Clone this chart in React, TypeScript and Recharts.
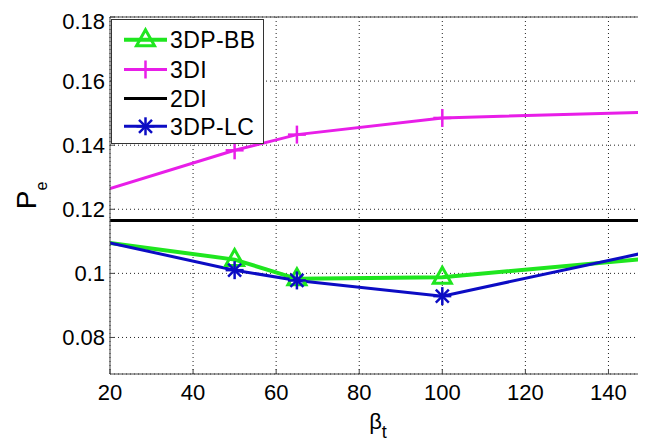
import React from 'react';
import { LineChart, Line, XAxis, YAxis, CartesianGrid, ReferenceLine, Legend } from 'recharts';

// ---- data ----
const betaT = [20, 50, 65, 100, 150];
const pe3DPBB = [0.1095, 0.1043, 0.0983, 0.0988, 0.1047];
const pe3DI = [0.1265, 0.1384, 0.1433, 0.1485, 0.1503];
const pe2DI = [0.1165, 0.1165, 0.1165, 0.1165, 0.1165];
const pe3DPLC = [0.1095, 0.101, 0.0978, 0.0929, 0.1068];

const xTicks = [20, 40, 60, 80, 100, 120, 140];
const xTickLabels = ['20', '40', '60', '80', '100', '120', '140'];
const yTicks = [0.08, 0.1, 0.12, 0.14, 0.16, 0.18];
const yTickLabels = ['0.08', '0.1', '0.12', '0.14', '0.16', '0.18'];
const xDomain: [number, number] = [20, 150];
const yDomain: [number, number] = [0.0686, 0.18];

const seriesNames = ['3DP-BB', '3DI', '2DI', '3DP-LC'];

const data = betaT.map((b, i) => ({
  beta: b,
  bb: pe3DPBB[i],
  di3: pe3DI[i],
  di2: pe2DI[i],
  lc: pe3DPLC[i],
}));

// ---- styles ----
const FONT = '"Liberation Sans", Arial, Helvetica, sans-serif';
const series = [
  { key: 'bb', name: seriesNames[0], color: '#1fe61f', width: 4, marker: 'triangle' },
  { key: 'di3', name: seriesNames[1], color: '#e81ee8', width: 3, marker: 'plus' },
  { key: 'di2', name: seriesNames[2], color: '#000000', width: 3, marker: 'none' },
  { key: 'lc', name: seriesNames[3], color: '#0c0cc4', width: 3, marker: 'star' },
];

function Marker({ type, cx, cy, color }: { type: string; cx: number; cy: number; color: string }) {
  if (type === 'triangle') {
    return (
      <polygon
        points={`${cx},${cy - 10} ${cx - 9},${cy + 6} ${cx + 9},${cy + 6}`}
        fill="none"
        stroke={color}
        strokeWidth={3}
        strokeLinejoin="miter"
      />
    );
  }
  if (type === 'plus') {
    const r = 9;
    return (
      <g stroke={color} strokeWidth={2.5}>
        <line x1={cx - r} y1={cy} x2={cx + r} y2={cy} />
        <line x1={cx} y1={cy - r} x2={cx} y2={cy + r} />
      </g>
    );
  }
  if (type === 'star') {
    const r = 9;
    const d = 6.5;
    return (
      <g stroke={color} strokeWidth={2.5}>
        <line x1={cx - r} y1={cy} x2={cx + r} y2={cy} />
        <line x1={cx} y1={cy - r} x2={cx} y2={cy + r} />
        <line x1={cx - d} y1={cy - d} x2={cx + d} y2={cy + d} />
        <line x1={cx - d} y1={cy + d} x2={cx + d} y2={cy - d} />
      </g>
    );
  }
  return null;
}

const makeDot = (type: string, color: string) => (p: any) => {
  if (type === 'none' || p.index === 0 || p.cx == null || p.cy == null) {
    return <g key={`d-${type}-${p.index}`} />;
  }
  return (
    <g key={`d-${type}-${p.index}`}>
      <Marker type={type} cx={p.cx} cy={p.cy} color={color} />
    </g>
  );
};

const legendRows = [20.7, 50.5, 79.5, 107.3];

const LegendBox = () => (
  <svg width={154} height={126} style={{ display: 'block', fontFamily: FONT }}>
    <rect x={0.5} y={0.5} width={152} height={124} fill="#ffffff" stroke="#333333" strokeWidth={1} />
    {series.map((s, i) => {
      const cy = legendRows[i];
      return (
        <g key={s.key}>
          <line x1={13} x2={56} y1={cy} y2={cy} stroke={s.color} strokeWidth={s.width} />
          <Marker type={s.marker} cx={34.5} cy={cy} color={s.color} />
          <text x={59} y={cy} dy="0.36em" fontSize={23} letterSpacing={0.4} fill="#000000">
            {s.name}
          </text>
        </g>
      );
    })}
  </svg>
);

const XLabel = (props: any) => {
  const vb = props.viewBox || { x: 102, y: 366, width: 540, height: 67 };
  const cx = vb.x + vb.width / 2;
  return (
    <text x={cx - 2} y={421} textAnchor="middle" fontSize={22} fill="#000" fontFamily={FONT}>
      β
      <tspan fontSize={18} dy={9}>
        t
      </tspan>
    </text>
  );
};

const YLabel = () => {
  const x = 28;
  const y = 187.5;
  return (
    <text
      x={x}
      y={y}
      textAnchor="middle"
      fontSize={28}
      fill="#000"
      fontFamily={FONT}
      transform={`rotate(-90, ${x}, ${y})`}
    >
      P
      <tspan fontSize={16} dy={11}>
        e
      </tspan>
    </text>
  );
};

export default function App() {
  return (
    <div style={{ width: 638, height: 433, overflow: 'hidden', fontFamily: FONT }}>
      <LineChart
        width={660}
        height={433}
        data={data}
        margin={{ top: 9, right: 18, bottom: 0, left: 0 }}
      >
        <CartesianGrid stroke="#222" strokeDasharray="1 3" strokeWidth={1} />
        <XAxis
          dataKey="beta"
          type="number"
          domain={xDomain}
          ticks={xTicks}
          tickFormatter={(v: number) => xTickLabels[xTicks.indexOf(v)] ?? String(v)}
          height={67}
          tickSize={-5}
          tickMargin={15}
          stroke="#444"
          tick={{ fill: '#000', fontSize: 22, fontFamily: FONT }}
          allowDataOverflow
          label={<XLabel />}
        />
        <XAxis
          xAxisId="top"
          orientation="top"
          type="number"
          domain={xDomain}
          ticks={xTicks}
          height={0}
          tick={false}
          tickSize={-5}
          axisLine={false}
          stroke="#444"
          allowDataOverflow
        />
        <YAxis
          type="number"
          domain={yDomain}
          ticks={yTicks}
          tickFormatter={(v: number) => {
            const i = yTicks.findIndex((t) => Math.abs(t - v) < 1e-9);
            return i >= 0 ? yTickLabels[i] : String(v);
          }}
          width={102}
          tickSize={-5}
          tickMargin={10}
          stroke="#444"
          tick={{ fill: '#000', fontSize: 22, fontFamily: FONT }}
          allowDataOverflow
          label={<YLabel />}
        />
        <ReferenceLine y={0.18} stroke="#444" strokeWidth={1} />
        <ReferenceLine x={150} stroke="#444" strokeWidth={1} />
        {series.map((s) => (
          <Line
            key={s.key}
            dataKey={s.key}
            name={s.name}
            type="linear"
            stroke={s.color}
            strokeWidth={s.width}
            dot={makeDot(s.marker, s.color)}
            activeDot={false}
            isAnimationActive={false}
          />
        ))}
        <Legend
          layout="horizontal"
          verticalAlign="middle"
          align="center"
          content={() => <LegendBox />}
          wrapperStyle={{ left: 103, top: 11, width: 154, height: 126 }}
        />
      </LineChart>
    </div>
  );
}
